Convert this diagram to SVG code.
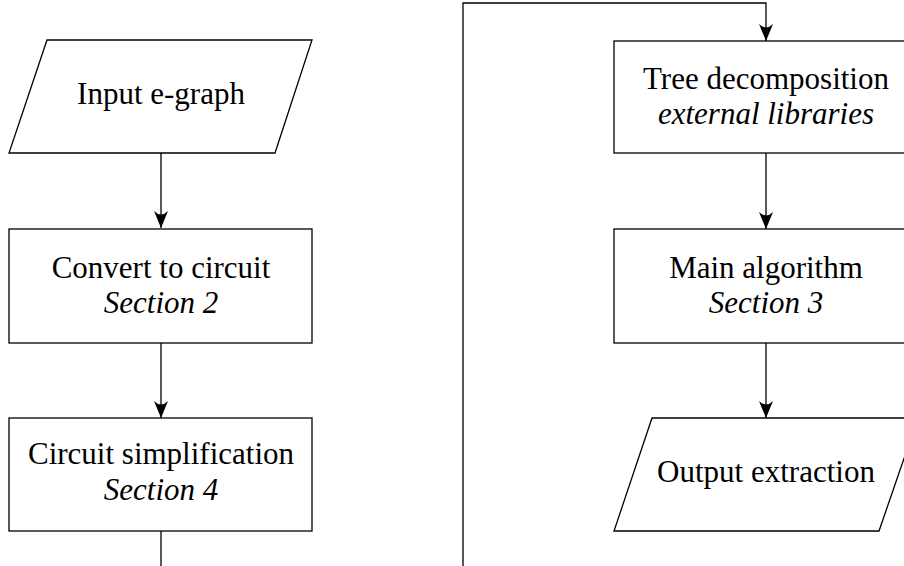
<svg xmlns="http://www.w3.org/2000/svg" width="904" height="566" viewBox="0 0 904 566">
<style>
.box{fill:#fff;stroke:#000;stroke-width:1.3}
.edge{fill:none;stroke:#000;stroke-width:1.3}
.t{font-family:"Liberation Serif","DejaVu Serif",serif;font-size:31px;fill:#000;text-anchor:middle}
.i{font-style:italic}
</style>
<defs>
<marker id="arr" viewBox="0 0 17 14" refX="17" refY="7" markerWidth="17" markerHeight="14" markerUnits="userSpaceOnUse" orient="auto">
<path d="M0,0 Q7,7 0,14 L17,7 Z" fill="#000"/>
</marker>
</defs>
<rect width="904" height="566" fill="#fff"/>
<g id="connectors">
<line class="edge" x1="161" y1="153" x2="161" y2="228" marker-end="url(#arr)"/>
<line class="edge" x1="161" y1="343" x2="161" y2="418" marker-end="url(#arr)"/>
<path class="edge" d="M161,531 V566"/>
<path class="edge" d="M463,566 V3 H766 V41" marker-end="url(#arr)"/>
<line class="edge" x1="766" y1="153" x2="766" y2="229" marker-end="url(#arr)"/>
<line class="edge" x1="766" y1="343" x2="766" y2="418" marker-end="url(#arr)"/>
</g>
<g id="input">
<polygon class="box" points="47,40 312,40 275,153 9,153"/>
<text class="t" x="161" y="104">Input e-graph</text>
</g>
<g id="convert">
<rect class="box" x="9" y="229" width="303" height="114"/>
<text class="t" x="161" y="278">Convert to circuit</text>
<text class="t i" x="161" y="313">Section 2</text>
</g>
<g id="simplify">
<rect class="box" x="9" y="418" width="303" height="113"/>
<text class="t" x="161" y="464">Circuit simplification</text>
<text class="t i" x="161" y="500">Section 4</text>
</g>
<g id="tree">
<rect class="box" x="614" y="41" width="304" height="112"/>
<text class="t" x="766" y="89">Tree decomposition</text>
<text class="t i" x="766" y="124">external libraries</text>
</g>
<g id="main">
<rect class="box" x="614" y="229" width="304" height="114"/>
<text class="t" x="766" y="278">Main algorithm</text>
<text class="t i" x="766" y="313">Section 3</text>
</g>
<g id="output">
<polygon class="box" points="652,418 918,418 879,531 614,531"/>
<text class="t" x="766" y="482">Output extraction</text>
</g>
</svg>
